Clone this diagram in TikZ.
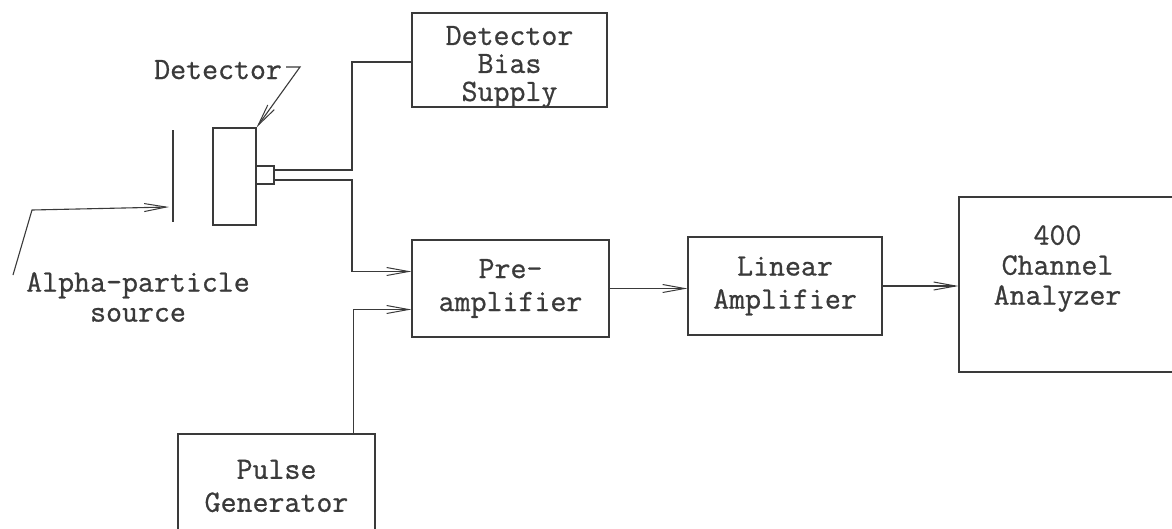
\documentclass[tikz,border=0pt]{standalone}
\usepackage{fontspec}
\usetikzlibrary{arrows.meta,calc}
\definecolor{inkc}{HTML}{3A3A3A}
\newfontfamily\tyfam{Latin Modern Mono}[FakeBold=0.8]
\newcommand\tytext{\fontsize{31}{33}\selectfont\tyfam}
\begin{document}
\begin{tikzpicture}[x=1pt,y=-1pt,
  ink/.style={draw=inkc, line width=1.1pt},
  blk/.style={ink, rectangle, inner sep=0pt, align=center, font=\tytext, text=inkc},
  arr/.style={ink, -{Straight Barb[length=22pt,width=8pt,line width=1pt]}},
  lbl/.style={align=center, font=\tytext, text=inkc, inner sep=0pt}]
\clip (0,0) rectangle (1172,528);
\fill[white] (0,0) rectangle (1172,528);
% boxes
\node[blk, minimum width=195pt, minimum height=94pt,
  label={[lbl, yshift=-7pt]center:{Detector\\[-5pt]Bias\\[-5pt]Supply}}] (bias) at (509.5,60) {};
\node[blk, minimum width=197pt, minimum height=97pt] (pre) at (510.5,288.5) {Pre-\\amplifier};
\node[blk, minimum width=194pt, minimum height=98pt] (lin) at (785,286) {Linear\\Amplifier};
\node[blk, minimum width=241pt, minimum height=175pt,
  label={[lbl, xshift=-22pt, yshift=16pt]center:{400\\[-3pt]Channel\\[-3pt]Analyzer}}] (ana) at (1079.5,284.5) {};
\node[blk, minimum width=197pt, minimum height=104pt] (pulse) at (276.5,486) {Pulse\\Generator};
% detector
\node[ink, rectangle, minimum width=43pt, minimum height=97pt, inner sep=0pt] (det) at (234.5,176.5) {};
\node[ink, rectangle, minimum width=18pt, minimum height=18pt, inner sep=0pt] (conn) at (265,175) {};
% source plate
\coordinate (pt) at (173,130);
\coordinate (pb) at (173,222);
\draw[ink] (pt) -- (pb);
% alpha arrow
\coordinate (as) at (13,275);
\coordinate (ab) at (32,210);
\coordinate (hit) at (169,207);
\draw[arr] (as) -- (ab) -- (hit);
\node[lbl] (al) at (138,297) {Alpha-particle\\[-3pt]source};
% detector label
\node[lbl, anchor=base west] (detl) at (154,79) {Detector};
\coordinate (hk0) at (286,67);
\coordinate (hk) at (300,67);
\draw[arr] (hk0) -- (hk) -- (det.north east);
% wires
\coordinate (c1) at ([yshift=5pt]conn.east);
\coordinate (c2) at ([yshift=-5pt]conn.east);
\coordinate (jx) at (352,0);
\draw[ink] (c1) -- (c1 -| jx) |- ([yshift=-2pt]bias.west);
\draw[arr] (c2) -- (c2 -| jx) |- ([yshift=17pt]pre.west);
\draw[arr] ([xshift=-22pt]pulse.north east) |- ([yshift=-21pt]pre.west);
\draw[arr] (pre.east) -- (pre.east -| lin.west);
\draw[arr] (lin.east) -- (lin.east -| ana.west);
\end{tikzpicture}
\end{document}
